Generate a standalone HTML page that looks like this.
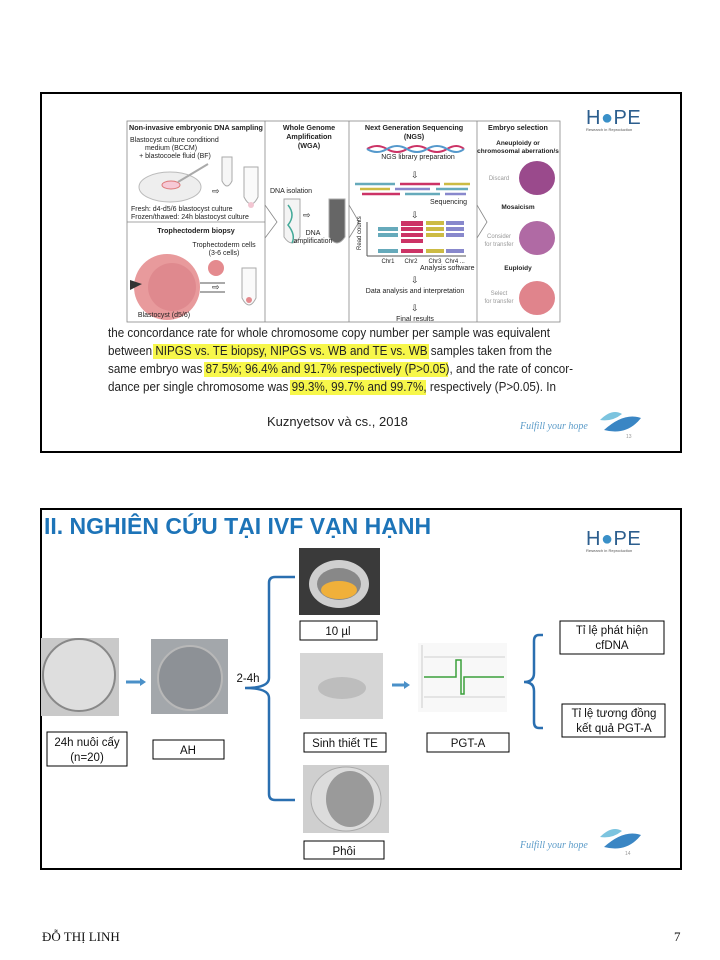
<!DOCTYPE html>
<html><head><meta charset="utf-8"><style>
body{margin:0;width:720px;height:960px;background:#fff;overflow:hidden;font-family:"Liberation Sans",sans-serif}
svg{position:absolute;left:0;top:0}
</style></head><body>
<svg width="720" height="960" viewBox="0 0 720 960" font-family="Liberation Sans, sans-serif">
<!-- Slide 1 -->
<rect x="41" y="93" width="640" height="359" fill="#fff" stroke="#000" stroke-width="2"/>
<g font-size="7" fill="#222">
<rect x="127" y="121" width="433" height="201" fill="#fff" stroke="#888" stroke-width="0.8"/>
<line x1="265" y1="121" x2="265" y2="322" stroke="#888" stroke-width="0.8"/>
<line x1="349" y1="121" x2="349" y2="322" stroke="#888" stroke-width="0.8"/>
<line x1="477" y1="121" x2="477" y2="322" stroke="#888" stroke-width="0.8"/>
<line x1="127" y1="222" x2="265" y2="222" stroke="#888" stroke-width="0.8"/>
<polyline points="265,205 277,222 265,238" fill="none" stroke="#888" stroke-width="0.8"/>
<polyline points="349,205 359,222 349,238" fill="none" stroke="#888" stroke-width="0.8"/>
<polyline points="477,205 487,222 477,238" fill="none" stroke="#888" stroke-width="0.8"/>
<text x="129" y="130" font-weight="bold" font-size="7.2">Non-invasive embryonic DNA sampling</text>
<text x="130" y="142">Blastocyst culture conditiond</text>
<text x="171" y="150" text-anchor="middle">medium (BCCM)</text>
<text x="175" y="158" text-anchor="middle">+ blastocoele fluid (BF)</text>
<ellipse cx="170" cy="187" rx="31" ry="15" fill="#eee" stroke="#bbb"/>
<ellipse cx="171" cy="185" rx="9" ry="4" fill="#f6c9d6" stroke="#d77"/>
<line x1="178" y1="182" x2="208" y2="164" stroke="#aaa" stroke-width="2"/>
<path d="M222,157 h10 v24 q-5,10 -10,0 z" fill="#f6f6f6" stroke="#aaa"/>
<path d="M244,167 h14 v30 q-7,14 -14,0 z" fill="#fafafa" stroke="#aaa"/>
<circle cx="251" cy="205" r="3" fill="#f2c6d2"/>
<text x="212" y="194" font-size="9">⇨</text>
<text x="131" y="211">Fresh: d4-d5/6 blastocyst culture</text>
<text x="131" y="219">Frozen/thawed: 24h blastocyst culture</text>
<text x="196" y="233" text-anchor="middle" font-weight="bold" font-size="7.2">Trophectoderm biopsy</text>
<text x="224" y="247" text-anchor="middle">Trophectoderm cells</text>
<text x="224" y="255" text-anchor="middle">(3-6 cells)</text>
<circle cx="216" cy="268" r="8" fill="#e48a8e"/>
<circle cx="167" cy="287" r="33" fill="#e89a9c"/>
<circle cx="172" cy="287" r="24" fill="#d97f85" opacity="0.6"/>
<path d="M130,280 l12,4 l-12,6 z" fill="#333"/>
<line x1="200" y1="283" x2="225" y2="283" stroke="#555"/><line x1="200" y1="292" x2="225" y2="292" stroke="#555"/>
<text x="212" y="290" font-size="9">⇨</text>
<path d="M242,268 h14 v30 q-7,14 -14,0 z" fill="#fafafa" stroke="#aaa"/>
<circle cx="249" cy="300" r="3" fill="#e48a8e"/>
<text x="164" y="317" text-anchor="middle">Blastocyst (d5/6)</text>
<text x="309" y="130" text-anchor="middle" font-weight="bold" font-size="7.2">Whole Genome</text>
<text x="309" y="139" text-anchor="middle" font-weight="bold" font-size="7.2">Amplification</text>
<text x="309" y="148" text-anchor="middle" font-weight="bold" font-size="7.2">(WGA)</text>
<text x="270" y="193">DNA isolation</text>
<path d="M284,199 h16 v38 q-8,12 -16,0 z" fill="#f4f4f4" stroke="#aaa"/>
<path d="M288,205 q8,10 0,20 q8,10 4,18" fill="none" stroke="#4a9" stroke-width="1.5"/>
<path d="M329,199 h16 v38 q-8,12 -16,0 z" fill="#666" stroke="#aaa"/>
<text x="303" y="218" font-size="9">⇨</text>
<text x="313" y="235" text-anchor="middle">DNA</text>
<text x="313" y="243" text-anchor="middle">amplification</text>
<text x="414" y="130" text-anchor="middle" font-weight="bold" font-size="7.2">Next Generation Sequencing</text>
<text x="414" y="139" text-anchor="middle" font-weight="bold" font-size="7.2">(NGS)</text>
<path d="M367,149 q10,-6 20,0 t20,0 t20,0 t20,0 t17,0" fill="none" stroke="#c36" stroke-width="2"/>
<path d="M367,149 q10,6 20,0 t20,0 t20,0 t20,0 t17,0" fill="none" stroke="#59c" stroke-width="2"/>
<text x="418" y="159" text-anchor="middle">NGS library preparation</text>
<text x="411" y="178" font-size="9">⇩</text>
<g stroke-width="2.5">
<line x1="355" y1="184" x2="395" y2="184" stroke="#6ab"/><line x1="400" y1="184" x2="440" y2="184" stroke="#c36"/><line x1="444" y1="184" x2="470" y2="184" stroke="#cb4"/>
<line x1="360" y1="189" x2="390" y2="189" stroke="#cb4"/><line x1="395" y1="189" x2="430" y2="189" stroke="#88c"/><line x1="436" y1="189" x2="468" y2="189" stroke="#6ab"/>
<line x1="362" y1="194" x2="400" y2="194" stroke="#c36"/><line x1="405" y1="194" x2="440" y2="194" stroke="#6ab"/><line x1="445" y1="194" x2="466" y2="194" stroke="#88c"/>
</g>
<text x="430" y="204">Sequencing</text>
<text x="411" y="218" font-size="9">⇩</text>
<line x1="367" y1="222" x2="367" y2="256" stroke="#555"/><line x1="367" y1="256" x2="466" y2="256" stroke="#555"/>
<g>
<rect x="378" y="227" width="20" height="4" fill="#6ab"/><rect x="378" y="233" width="20" height="4" fill="#6ab"/><rect x="378" y="249" width="20" height="4" fill="#6ab"/>
<rect x="401" y="221" width="22" height="5" fill="#c36"/><rect x="401" y="227" width="22" height="4" fill="#c36"/><rect x="401" y="233" width="22" height="4" fill="#c36"/><rect x="401" y="239" width="22" height="4" fill="#c36"/><rect x="401" y="249" width="22" height="4" fill="#c36"/>
<rect x="426" y="221" width="18" height="4" fill="#cb4"/><rect x="426" y="227" width="18" height="4" fill="#cb4"/><rect x="426" y="233" width="18" height="4" fill="#cb4"/><rect x="426" y="249" width="18" height="4" fill="#cb4"/>
<rect x="446" y="221" width="18" height="4" fill="#88c"/><rect x="446" y="227" width="18" height="4" fill="#88c"/><rect x="446" y="233" width="18" height="4" fill="#88c"/><rect x="446" y="249" width="18" height="4" fill="#88c"/>
</g>
<text x="361" y="250" font-size="6" transform="rotate(-90 361 250)">Read counts</text>
<text x="388" y="263" text-anchor="middle" font-size="6">Chr1</text><text x="411" y="263" text-anchor="middle" font-size="6">Chr2</text><text x="435" y="263" text-anchor="middle" font-size="6">Chr3</text><text x="455" y="263" text-anchor="middle" font-size="6">Chr4 ...</text>
<text x="420" y="270">Analysis software</text>
<text x="411" y="283" font-size="9">⇩</text>
<text x="415" y="293" text-anchor="middle">Data analysis and interpretation</text>
<text x="411" y="311" font-size="9">⇩</text>
<text x="415" y="321" text-anchor="middle">Final results</text>
<text x="518" y="130" text-anchor="middle" font-weight="bold" font-size="7.2">Embryo selection</text>
<text x="518" y="145" text-anchor="middle" font-weight="bold" font-size="6.5">Aneuploidy or</text>
<text x="518" y="153" text-anchor="middle" font-weight="bold" font-size="6.5">chromosomal aberration/s</text>
<text x="499" y="180" text-anchor="middle" fill="#999" font-size="6">Discard</text>
<ellipse cx="537" cy="178" rx="18" ry="17" fill="#9a4a8c"/>
<text x="518" y="209" text-anchor="middle" font-weight="bold" font-size="6.5">Mosaicism</text>
<text x="499" y="238" text-anchor="middle" fill="#999" font-size="6">Consider</text><text x="499" y="246" text-anchor="middle" fill="#999" font-size="6">for transfer</text>
<ellipse cx="537" cy="238" rx="18" ry="17" fill="#b06aa4"/>
<text x="518" y="270" text-anchor="middle" font-weight="bold" font-size="6.5">Euploidy</text>
<text x="499" y="295" text-anchor="middle" fill="#999" font-size="6">Select</text><text x="499" y="303" text-anchor="middle" fill="#999" font-size="6">for transfer</text>
<ellipse cx="537" cy="298" rx="18" ry="17" fill="#e0848c"/>
</g>
<rect x="153" y="344" width="276" height="15" fill="#f7f74a"/>
<rect x="204" y="362" width="244" height="15" fill="#f7f74a"/>
<rect x="290" y="380" width="136" height="15" fill="#f7f74a"/>
<g font-size="12.5" fill="#222">
<text x="108" y="337" textLength="442" lengthAdjust="spacingAndGlyphs">the concordance rate for whole chromosome copy number per sample was equivalent</text>
<text x="108" y="355" textLength="444" lengthAdjust="spacingAndGlyphs">between NIPGS vs. TE biopsy, NIPGS vs. WB and TE vs. WB samples taken from the</text>
<text x="108" y="373" textLength="465" lengthAdjust="spacingAndGlyphs">same embryo was 87.5%; 96.4% and 91.7% respectively (P&gt;0.05), and the rate of concor-</text>
<text x="108" y="391" textLength="448" lengthAdjust="spacingAndGlyphs">dance per single chromosome was 99.3%, 99.7% and 99.7%, respectively (P&gt;0.05). In</text>
</g>
<text x="267" y="426" font-size="13" fill="#222">Kuznyetsov và cs., 2018</text>
<!-- logos slide 1 -->
<text x="586" y="124" font-size="20" fill="#2c5e8e" letter-spacing="0.5">H<tspan fill="#3a90c8">●</tspan>PE</text>
<text x="586" y="131" font-size="4" fill="#555">Research in Reproduction</text>
<text x="520" y="429" font-size="10" fill="#5b9bc8" font-family="Liberation Serif,serif" font-style="italic">Fulfill your hope</text>
<path d="M600,420 q12,-12 22,-6 q-10,8 -22,6z" fill="#7cc4df"/>
<path d="M604,430 q20,-18 37,-12 q-14,18 -37,12z" fill="#3a86c4"/>
<text x="626" y="438" font-size="5" fill="#999">13</text>

<!-- Slide 2 -->
<rect x="41" y="509" width="640" height="360" fill="#fff" stroke="#000" stroke-width="2"/>
<text x="44" y="534" font-size="23" font-weight="bold" fill="#1d74b8">II. NGHIÊN CỨU TẠI IVF VẠN HẠNH</text>
<text x="586" y="545" font-size="20" fill="#2c5e8e" letter-spacing="0.5">H<tspan fill="#3a90c8">●</tspan>PE</text>
<text x="586" y="552" font-size="4" fill="#555">Research in Reproduction</text>
<!-- images -->
<rect x="41" y="638" width="78" height="78" fill="#c9c9c9"/>
<circle cx="79" cy="675" r="36" fill="#dedede" stroke="#888" stroke-width="2"/>
<rect x="151" y="639" width="77" height="75" fill="#a3a7ab"/>
<circle cx="190" cy="678" r="32" fill="#8d9196" stroke="#b8b8b8" stroke-width="2"/>
<line x1="126" y1="682" x2="141" y2="682" stroke="#4a90c8" stroke-width="3"/><path d="M140,678 l6,4 l-6,4z" fill="#4a90c8"/>
<rect x="299" y="548" width="81" height="67" fill="#3a3a3a"/>
<ellipse cx="339" cy="584" rx="30" ry="24" fill="#cfcfcf"/>
<ellipse cx="339" cy="584" rx="22" ry="16" fill="#888"/>
<ellipse cx="339" cy="590" rx="18" ry="9" fill="#f0b03a"/>
<rect x="300" y="653" width="83" height="66" fill="#d6d6d6"/>
<ellipse cx="342" cy="688" rx="24" ry="11" fill="#bdbdbd"/>
<rect x="303" y="765" width="86" height="68" fill="#cfcfcf"/>
<ellipse cx="346" cy="799" rx="35" ry="32" fill="#dcdcdc" stroke="#aaa"/>
<ellipse cx="350" cy="799" rx="24" ry="28" fill="#9a9a9a"/>
<line x1="392" y1="685" x2="405" y2="685" stroke="#4a90c8" stroke-width="3"/><path d="M404,681 l6,4 l-6,4z" fill="#4a90c8"/>
<rect x="418" y="643" width="89" height="69" fill="#f8f8f8"/>
<line x1="424" y1="657" x2="505" y2="657" stroke="#aaa" stroke-width="0.6"/>
<line x1="424" y1="697" x2="505" y2="697" stroke="#aaa" stroke-width="0.6"/>
<line x1="422" y1="645" x2="422" y2="708" stroke="#ccc"/>
<polyline points="424,677 456,677 456,660 461,660 461,694 464,694 464,677 504,677" fill="none" stroke="#3aa03a" stroke-width="1.5"/>
<!-- brackets -->
<path d="M295,577 h-20 q-6,0 -6,6 v95 q0,10 -24,10 q24,0 24,10 v96 q0,6 6,6 h20" fill="none" stroke="#2a6fb0" stroke-width="2.5"/>
<path d="M543,635 h-4 q-5,0 -5,6 v32 q0,9 -10,9 q10,0 10,9 v31 q0,6 5,6 h4" fill="none" stroke="#2a6fb0" stroke-width="2.5"/>
<g font-size="11.5" fill="#111" text-anchor="middle">
<text x="248" y="682">2-4h</text>
<rect x="47" y="732" width="80" height="34" fill="#fff" stroke="#000"/>
<text x="87" y="746">24h nuôi cấy</text><text x="87" y="761">(n=20)</text>
<rect x="153" y="740" width="71" height="19" fill="#fff" stroke="#000"/><text x="188" y="754">AH</text>
<rect x="300" y="621" width="77" height="19" fill="#fff" stroke="#000"/><text x="338" y="635">10 µl</text>
<rect x="304" y="733" width="82" height="19" fill="#fff" stroke="#000"/><text x="345" y="747">Sinh thiết TE</text>
<rect x="304" y="841" width="80" height="18" fill="#fff" stroke="#000"/><text x="344" y="855">Phôi</text>
<rect x="427" y="733" width="82" height="19" fill="#fff" stroke="#000"/><text x="468" y="747">PGT-A</text>
<rect x="560" y="621" width="104" height="33" fill="#fff" stroke="#000"/>
<text x="612" y="634">Tỉ lệ phát hiện</text><text x="612" y="649">cfDNA</text>
<rect x="562" y="704" width="103" height="33" fill="#fff" stroke="#000"/>
<text x="614" y="717">Tỉ lệ tương đồng</text><text x="614" y="732">kết quả PGT-A</text>
</g>
<text x="520" y="848" font-size="10" fill="#5b9bc8" font-family="Liberation Serif,serif" font-style="italic">Fulfill your hope</text>
<path d="M600,837 q12,-12 22,-6 q-10,8 -22,6z" fill="#7cc4df"/>
<path d="M604,847 q20,-18 37,-12 q-14,18 -37,12z" fill="#3a86c4"/>
<text x="625" y="855" font-size="5" fill="#999">14</text>

<text x="42" y="941" font-size="13" font-family="Liberation Serif,serif" fill="#111">ĐỖ THỊ LINH</text>
<text x="674" y="941" font-size="13" font-family="Liberation Serif,serif" fill="#111">7</text>
</svg>
</body></html>
